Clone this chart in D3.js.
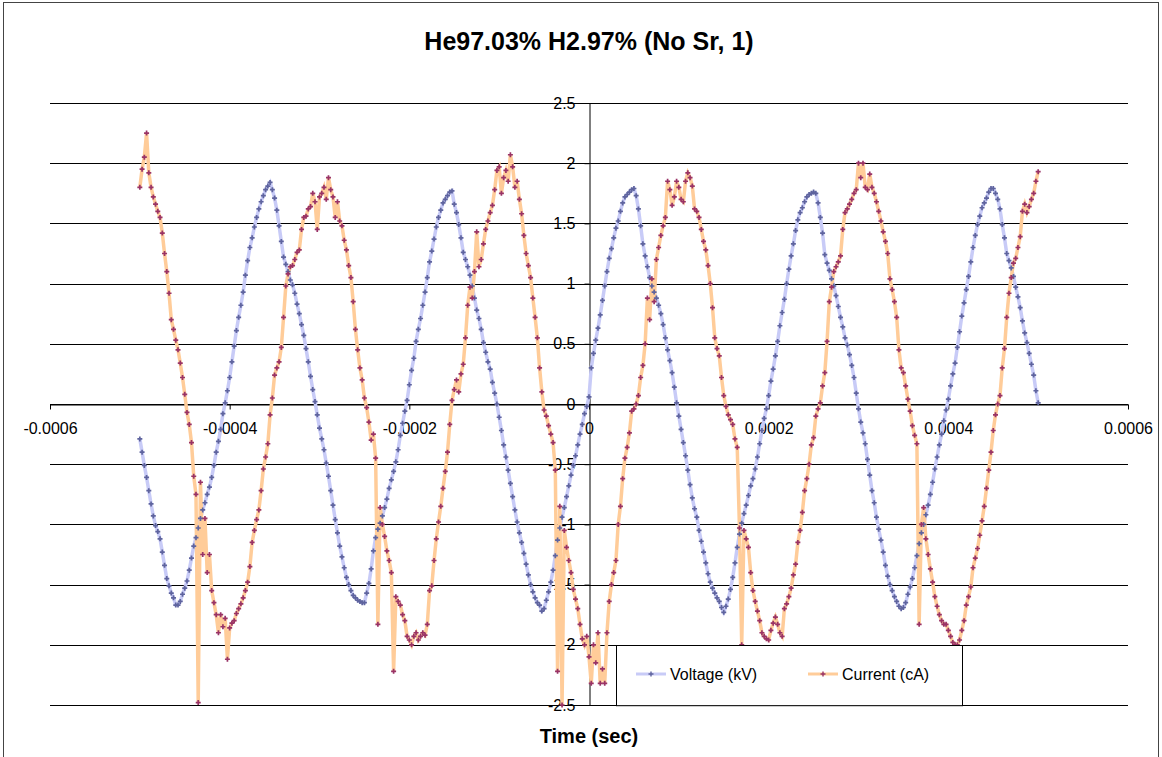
<!DOCTYPE html>
<html>
<head>
<meta charset="utf-8"/>
<title>He97.03% H2.97% (No Sr, 1)</title>
<style>
  * { margin: 0; padding: 0; }
  body { background: #fff; }
  svg { display: block; }
  text { font-family: "Liberation Sans", Arial, sans-serif; fill: #000; }
  text.title { font-size: 25px; font-weight: bold; }
  text.axis-title { font-size: 20px; font-weight: bold; }
  .tick text { font-size: 16px; font-family: "Liberation Sans", Arial, sans-serif; }
  .grid line { stroke: #000; stroke-width: 1; }
  .legend text { font-size: 16px; }
</style>
<script src="https://d3js.org/d3.v7.min.js"></script>
</head>
<body>
<svg width="1162" height="757"></svg>
<script>
// scope samples, one every 2.5 microseconds starting at -0.5 ms
const sampleStart = -0.0005;
const sampleStep = 0.0000025;

// voltage (kV)
const voltage = [
  -0.29, -0.40, -0.51, -0.61, -0.72, -0.83, -0.93, -1.01, -1.06, -1.12,
  -1.23, -1.34, -1.45, -1.51, -1.57, -1.61, -1.67, -1.67, -1.64, -1.58,
  -1.53, -1.47, -1.38, -1.28, -1.18, -1.11, -1.03, -0.95, -0.88, -0.82,
  -0.75, -0.69, -0.61, -0.51, -0.40, -0.31, -0.21, -0.08, 0.01, 0.11,
  0.22, 0.35, 0.48, 0.61, 0.72, 0.82, 0.93, 1.07, 1.19, 1.30,
  1.38, 1.47, 1.55, 1.62, 1.68, 1.73, 1.78, 1.81, 1.84, 1.78,
  1.71, 1.61, 1.48, 1.35, 1.22, 1.16, 1.10, 1.03, 0.99, 0.92,
  0.83, 0.75, 0.66, 0.57, 0.46, 0.35, 0.23, 0.12, 0.02, -0.09,
  -0.20, -0.29, -0.38, -0.49, -0.60, -0.72, -0.84, -0.96, -1.07, -1.18,
  -1.27, -1.36, -1.44, -1.50, -1.55, -1.59, -1.61, -1.63, -1.64, -1.65,
  -1.65, -1.57, -1.49, -1.37, -1.22, -1.11, -1.04, -0.99, -0.93, -0.86,
  -0.79, -0.70, -0.63, -0.56, -0.48, -0.38, -0.26, -0.16, -0.06, 0.03,
  0.16, 0.28, 0.38, 0.52, 0.62, 0.71, 0.82, 0.93, 1.05, 1.18,
  1.27, 1.37, 1.47, 1.55, 1.61, 1.67, 1.70, 1.73, 1.76, 1.77,
  1.66, 1.59, 1.49, 1.38, 1.26, 1.20, 1.14, 1.07, 0.98, 0.88,
  0.78, 0.71, 0.62, 0.51, 0.43, 0.35, 0.29, 0.18, 0.09, 0.00,
  -0.11, -0.22, -0.34, -0.44, -0.55, -0.66, -0.77, -0.88, -0.98, -1.07,
  -1.15, -1.24, -1.33, -1.42, -1.50, -1.56, -1.61, -1.65, -1.67, -1.72,
  -1.70, -1.63, -1.56, -1.48, -1.38, -1.26, -1.13, -1.03, -0.94, -0.86,
  -0.77, -0.68, -0.59, -0.51, -0.43, -0.34, -0.25, -0.17, -0.08, -0.02,
  0.06, 0.30, 0.42, 0.53, 0.63, 0.74, 0.86, 0.98, 1.10, 1.21,
  1.29, 1.38, 1.46, 1.52, 1.60, 1.67, 1.72, 1.74, 1.76, 1.78,
  1.79, 1.73, 1.62, 1.48, 1.33, 1.23, 1.14, 1.05, 0.98, 0.93,
  0.88, 0.82, 0.75, 0.66, 0.55, 0.45, 0.36, 0.26, 0.14, 0.01,
  -0.10, -0.21, -0.32, -0.43, -0.55, -0.67, -0.78, -0.87, -0.94, -1.05,
  -1.14, -1.23, -1.32, -1.41, -1.48, -1.53, -1.57, -1.61, -1.64, -1.69,
  -1.73, -1.68, -1.62, -1.54, -1.44, -1.32, -1.19, -1.08, -0.99, -0.91,
  -0.84, -0.76, -0.68, -0.62, -0.54, -0.44, -0.33, -0.22, -0.12, -0.04,
  0.07, 0.19, 0.29, 0.40, 0.52, 0.65, 0.76, 0.87, 1.00, 1.12,
  1.23, 1.33, 1.44, 1.53, 1.59, 1.63, 1.68, 1.72, 1.74, 1.75,
  1.76, 1.75, 1.67, 1.55, 1.42, 1.24, 1.17, 1.11, 1.04, 0.98,
  0.90, 0.81, 0.72, 0.64, 0.55, 0.49, 0.41, 0.32, 0.22, 0.09,
  -0.04, -0.15, -0.24, -0.33, -0.46, -0.59, -0.72, -0.82, -0.94, -1.04,
  -1.13, -1.23, -1.34, -1.43, -1.50, -1.55, -1.60, -1.64, -1.68, -1.70,
  -1.69, -1.65, -1.58, -1.52, -1.45, -1.36, -1.26, -1.16, -1.07, -1.00,
  -0.92, -0.84, -0.75, -0.65, -0.54, -0.44, -0.34, -0.25, -0.14, -0.05,
  0.04, 0.15, 0.25, 0.34, 0.47, 0.60, 0.73, 0.84, 0.95, 1.06,
  1.18, 1.30, 1.40, 1.49, 1.56, 1.63, 1.67, 1.71, 1.76, 1.79,
  1.79, 1.75, 1.70, 1.62, 1.49, 1.38, 1.25, 1.19, 1.13, 1.06,
  0.97, 0.89, 0.80, 0.69, 0.59, 0.51, 0.42, 0.33, 0.24, 0.11,
  0.01
];

// current (cA)
const current = [
  1.80, 1.95, 2.05, 2.25, 1.92, 1.80, 1.72, 1.66, 1.60, 1.55,
  1.42, 1.25, 1.10, 0.92, 0.70, 0.62, 0.53, 0.45, 0.34, 0.22,
  0.08, -0.07, -0.17, -0.32, -0.60, -0.75, -2.48, -0.65, -1.25, -0.95,
  -1.40, -1.25, -1.55, -1.65, -1.75, -1.90, -1.75, -1.85, -1.78, -2.12,
  -1.86, -1.82, -1.80, -1.74, -1.70, -1.66, -1.61, -1.55, -1.48, -1.35,
  -1.15, -1.05, -0.96, -0.88, -0.72, -0.54, -0.44, -0.33, -0.09, 0.05,
  0.24, 0.30, 0.35, 0.47, 0.72, 0.98, 1.08, 1.14, 1.15, 1.20,
  1.26, 1.28, 1.45, 1.55, 1.56, 1.62, 1.64, 1.75, 1.68, 1.45,
  1.72, 1.75, 1.80, 1.70, 1.88, 1.78, 1.72, 1.55, 1.68, 1.52,
  1.48, 1.36, 1.28, 1.15, 1.05, 0.85, 0.62, 0.45, 0.30, 0.20,
  0.05, -0.03, -0.15, -0.30, -0.25, -0.45, -1.83, -0.86, -1.00, -1.10,
  -1.22, -1.30, -1.40, -2.22, -1.60, -1.64, -1.67, -1.75, -1.80, -1.93,
  -1.96, -2.00, -1.93, -1.90, -1.96, -1.93, -1.90, -1.92, -1.83, -1.55,
  -1.51, -1.30, -1.12, -0.98, -0.85, -0.70, -0.56, -0.40, -0.17, 0.03,
  0.12, 0.20, 0.10, 0.25, 0.33, 0.55, 0.82, 0.97, 0.88, 1.10,
  1.43, 1.14, 1.20, 1.33, 1.45, 1.52, 1.59, 1.65, 1.78, 1.94,
  1.97, 1.75, 1.88, 1.94, 1.85, 2.07, 1.97, 1.80, 1.85, 1.70,
  1.58, 1.40, 1.25, 1.15, 1.05, 0.88, 0.72, 0.55, 0.30, 0.10,
  -0.05, -0.10, -0.18, -0.25, -0.32, -0.55, -2.22, -0.85, -2.50, -1.05,
  -1.19, -1.30, -1.40, -1.54, -1.62, -1.70, -1.83, -1.95, -2.00, -1.93,
  -2.10, -2.32, -2.00, -2.15, -1.90, -2.32, -2.20, -2.32, -1.90, -1.64,
  -1.50, -1.40, -1.30, -1.00, -0.85, -0.62, -0.45, -0.36, -0.24, -0.06,
  -0.04, 0.00, 0.07, 0.22, 0.32, 0.50, 0.88, 0.70, 1.04, 0.85,
  1.20, 1.30, 1.40, 1.48, 1.55, 1.85, 1.78, 1.65, 1.72, 1.85,
  1.80, 1.70, 1.68, 1.85, 1.92, 1.88, 1.81, 1.62, 1.60, 1.55,
  1.45, 1.35, 1.28, 1.15, 1.00, 0.80, 0.55, 0.46, 0.40, 0.22,
  0.07, -0.02, -0.09, -0.13, -0.17, -0.29, -0.36, -1.03, -2.00, -1.05,
  -1.12, -1.19, -1.40, -1.55, -1.64, -1.72, -1.80, -1.90, -1.93, -1.95,
  -1.96, -1.88, -1.82, -1.77, -1.83, -1.90, -1.93, -1.70, -1.66, -1.60,
  -1.53, -1.42, -1.33, -1.15, -1.05, -0.90, -0.72, -0.62, -0.50, -0.34,
  -0.28, -0.10, -0.04, 0.01, 0.15, 0.26, 0.52, 0.85, 0.97, 1.10,
  1.14, 1.18, 1.23, 1.45, 1.59, 1.62, 1.66, 1.70, 1.75, 1.78,
  2.00, 1.88, 2.00, 1.80, 1.78, 1.91, 1.80, 1.75, 1.68, 1.60,
  1.52, 1.43, 1.35, 1.25, 1.04, 0.95, 0.85, 0.72, 0.45, 0.30,
  0.26, 0.15, 0.04, -0.06, -0.18, -0.26, -0.33, -1.83, -1.00, -0.86,
  -1.12, -1.25, -1.37, -1.48, -1.60, -1.68, -1.75, -1.80, -1.83, -1.83,
  -1.88, -1.93, -1.98, -2.00, -2.00, -1.96, -1.88, -1.80, -1.67, -1.60,
  -1.52, -1.36, -1.28, -1.20, -1.09, -0.97, -0.85, -0.70, -0.55, -0.40,
  -0.22, -0.09, 0.00, 0.07, 0.30, 0.46, 0.72, 0.92, 1.05, 1.17,
  1.21, 1.30, 1.39, 1.60, 1.66, 1.59, 1.64, 1.70, 1.75, 1.85,
  1.93
];

const xTicks = [-0.0006, -0.0004, -0.0002, 0, 0.0002, 0.0004, 0.0006];
const yTicks = [-2.5, -2, -1.5, -1, -0.5, 0, 0.5, 1, 1.5, 2, 2.5];
const seriesNames = ["Voltage (kV)", "Current (cA)"];

const svg = d3.select("svg");

// outer chart frame
svg.append("rect")
  .attr("x", 3.5).attr("y", 2.5)
  .attr("width", 1155).attr("height", 760)
  .attr("fill", "#fff").attr("stroke", "#444").attr("stroke-width", 1);

// plot area
const plot = { left: 50, right: 1128, top: 103, bottom: 705 };

const x = d3.scaleLinear().domain([-0.0006, 0.0006]).range([plot.left, plot.right]);
const y = d3.scaleLinear().domain([-2.5, 2.5]).range([plot.bottom, plot.top]);

const rows = voltage.map((v, i) => ({ t: sampleStart + i * sampleStep, v: v, c: current[i] }));

// horizontal grid lines
svg.append("g").attr("class", "grid")
  .selectAll("line")
  .data(yTicks)
  .enter().append("line")
  .attr("x1", plot.left).attr("x2", plot.right)
  .attr("y1", d => Math.round(y(d)) + 0.5)
  .attr("y2", d => Math.round(y(d)) + 0.5);

// x axis crosses at y = 0
const xAxis = svg.append("g")
  .attr("transform", `translate(0, ${Math.round(y(0)) + 0.5})`)
  .call(d3.axisBottom(x).tickValues(xTicks).tickSize(5).tickSizeOuter(0).tickPadding(13)
    .tickFormat(d => String(d)));

// y axis crosses at x = 0
const yAxis = svg.append("g")
  .attr("transform", `translate(${Math.round(x(0)) + 0.5}, 0)`)
  .call(d3.axisLeft(y).tickValues(yTicks).tickSize(5).tickSizeOuter(0).tickPadding(9)
    .tickFormat(d => String(d)));

[xAxis, yAxis].forEach(a => {
  a.select(".domain").attr("stroke", "#000");
  a.selectAll(".tick line").attr("stroke", "#000");
  a.selectAll(".tick text").attr("fill", "#000");
});

// lines first, markers on top
const lineV = d3.line().x(d => x(d.t)).y(d => y(d.v));
const lineC = d3.line().x(d => x(d.t)).y(d => y(d.c));

svg.append("path")
  .attr("d", lineV(rows))
  .attr("fill", "none")
  .attr("stroke", "#c8cbf7")
  .attr("stroke-width", 3.5);

svg.append("path")
  .attr("d", lineC(rows))
  .attr("fill", "none")
  .attr("stroke", "#ffcc99")
  .attr("stroke-width", 3.5);

const plus = "M-2.5,0H2.5M0,-2.5V2.5";

svg.append("g")
  .selectAll("path")
  .data(rows)
  .enter().append("path")
  .attr("d", plus)
  .attr("transform", d => `translate(${x(d.t)}, ${y(d.v)})`)
  .attr("stroke", "#5f649e")
  .attr("stroke-width", 1.7);

svg.append("g")
  .selectAll("path")
  .data(rows)
  .enter().append("path")
  .attr("d", plus)
  .attr("transform", d => `translate(${x(d.t)}, ${y(d.c)})`)
  .attr("stroke", "#993366")
  .attr("stroke-width", 1.7);

// titles
svg.append("text")
  .attr("class", "title")
  .attr("x", 589).attr("y", 50)
  .attr("text-anchor", "middle")
  .text("He97.03% H2.97% (No Sr, 1)");

svg.append("text")
  .attr("class", "axis-title")
  .attr("x", 589).attr("y", 743)
  .attr("text-anchor", "middle")
  .text("Time (sec)");

// legend box sits on top of the data
const legend = svg.append("g").attr("class", "legend");
legend.append("rect")
  .attr("x", 616.5).attr("y", Math.round(y(-2)) + 0.5)
  .attr("width", 346).attr("height", y(-2.5) - y(-2))
  .attr("fill", "#fff").attr("stroke", "#000");

const legendColors = [
  { line: "#c8cbf7", mark: "#5f649e", x: 636 },
  { line: "#ffcc99", mark: "#993366", x: 808 }
];
seriesNames.forEach((name, i) => {
  const g = legend.append("g").attr("transform", `translate(${legendColors[i].x}, 674)`);
  g.append("line").attr("x1", 0).attr("x2", 30).attr("y1", 0).attr("y2", 0)
    .attr("stroke", legendColors[i].line).attr("stroke-width", 3);
  g.append("path").attr("d", plus).attr("transform", "translate(15, 0)")
    .attr("stroke", legendColors[i].mark).attr("stroke-width", 1.4);
  g.append("text").attr("x", 34).attr("y", 6).text(name);
});
</script>
</body>
</html>
